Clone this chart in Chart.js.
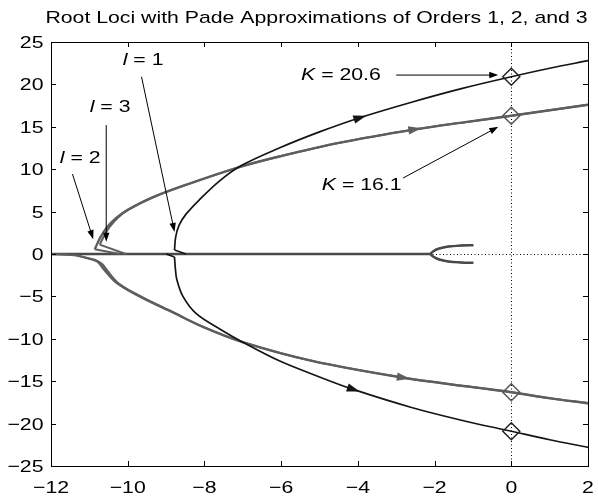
<!DOCTYPE html>
<html>
<head>
<meta charset="utf-8">
<script src="https://cdn.jsdelivr.net/npm/chart.js@4.4.1/dist/chart.umd.min.js"></script>
<style>
  html, body { margin: 0; padding: 0; background: #fff; }
  #wrap { width: 598px; height: 498px; }
</style>
</head>
<body>
<div id="wrap"><canvas id="c" width="598" height="498"></canvas></div>
<script>
// ---- values ----
const TITLE = 'Root Loci with Pade Approximations of Orders 1, 2, and 3';

// Pade order 1 (l = 1)
const l1UpX = [-8.78, -8.75, -8.66, -8.48, -8.13, -7.61, -7.05, -6.05, -5.0, -3.93, -2.6, -1.3, 0, 1, 2];
const l1UpY = [0.47, 2.0, 3.4, 4.7, 6.4, 8.6, 10.4, 12.5, 14.4, 16.1, 17.9, 19.5, 20.9, 21.9, 22.8];
const l1LoX = [-8.78, -8.76, -8.72, -8.56, -8.22, -7.58, -7.0, -6.05, -5.0, -4.1, -2.6, -1.3, 0, 1, 2];
const l1LoY = [-0.35, -1.6, -3.0, -5.0, -7.0, -8.9, -10.4, -12.6, -14.5, -16.0, -18.1, -19.6, -20.9, -21.9, -22.8];
const l1StubUpX = [-8.48, -8.78];
const l1StubUpY = [0, 0.47];
const l1StubLoX = [-9.0, -8.78];
const l1StubLoY = [0, -0.35];
const l1RealX = [-9.0, -2.11];
const l1RealY = [0, 0];

// Pade order 2 (l = 2)
const l2UpX = [-10.86, -10.72, -10.55, -10.3, -10.0, -9.34, -8.39, -7.05, -6.05, -4.5, -2.5, -1.2, 0, 1, 2];
const l2UpY = [0.55, 1.9, 3.1, 4.25, 5.2, 6.7, 8.3, 10.3, 11.5, 13.1, 14.7, 15.55, 16.3, 16.95, 17.6];
const l2LoX = [-10.9, -10.77, -10.64, -10.29, -9.69, -8.82, -8.04, -7.0, -5.2, -2.8, -1.0, 0, 1, 2];
const l2LoY = [-0.63, -0.95, -1.7, -3.4, -5.0, -6.9, -8.6, -10.4, -12.6, -14.6, -15.7, -16.3, -17.0, -17.6];
const l2StubUpX = [-10.2, -10.86];
const l2StubUpY = [0, 0.55];
const l2StubLoX = [-12, -11.4, -10.9];
const l2StubLoY = [0, -0.12, -0.63];

// Pade order 3 (l = 3)
const l3UpX = [-10.73, -10.62, -10.47, -10.25, -9.97, -9.32, -8.38, -7.05, -6.05, -4.5, -2.5, -1.2, 0, 1, 2];
const l3UpY = [1.1, 2.1, 3.2, 4.3, 5.25, 6.72, 8.3, 10.3, 11.5, 13.1, 14.7, 15.55, 16.3, 16.95, 17.6];
const l3LoX = [-10.78, -10.66, -10.55, -10.24, -9.65, -8.8, -8.03, -7.0, -5.2, -2.8, -1.0, 0, 1, 2];
const l3LoY = [-0.85, -1.2, -1.85, -3.45, -5.02, -6.9, -8.6, -10.4, -12.6, -14.6, -15.7, -16.3, -17.0, -17.6];
const l3StubUpX = [-10.05, -10.73];
const l3StubUpY = [0, 1.1];
const l3StubLoX = [-12, -11.3, -10.78];
const l3StubLoY = [0, -0.2, -0.85];

// branches leaving the plant poles at -1 ± j, shared by all orders
const plantUpX = [-0.99, -1.3, -1.64, -1.9, -2.04, -2.11];
const plantUpY = [1.04, 1.0, 0.88, 0.62, 0.3, 0];
const plantLoX = [-0.99, -1.3, -1.64, -1.9, -2.04, -2.11];
const plantLoY = [-1.04, -1.0, -0.88, -0.62, -0.3, 0];
const realAxisX = [-12, -2.11];
const realAxisY = [0, 0];

// imaginary-axis crossings
const crossX = [0, 0];
const cross206Y = [20.9, -20.9];
const cross161Y = [16.3, -16.3];

// ---- look ----
const BLACK = '#141414';
const GRAY = '#5e5e5e';
const SX = 1.25;
const FONT = '"Liberation Sans", Arial, Helvetica, sans-serif';
const FSIZE = 17;

const pts = (xs, ys) => xs.map((x, i) => ({ x, y: ys[i] }));

// lower "order" is painted later, i.e. on top
function curve(xs, ys, color, width, extra) {
  return Object.assign({
    data: pts(xs, ys), borderColor: color, backgroundColor: color,
    borderWidth: width, showLine: true, pointRadius: 0, pointHoverRadius: 0,
    tension: 0.35, fill: false, borderJoinStyle: 'round', order: 2
  }, extra || {});
}

const datasets = [
  curve(l1UpX, l1UpY, BLACK, 1.7, { arrowAt: 9, order: 1 }),
  curve(l1LoX, l1LoY, BLACK, 1.7, { arrowAt: 9, order: 1 }),
  curve(l1StubUpX, l1StubUpY, BLACK, 1.7, { tension: 0, order: 1 }),
  curve(l1StubLoX, l1StubLoY, BLACK, 1.7, { tension: 0, order: 1 }),
  curve(l1RealX, l1RealY, BLACK, 1.7, { tension: 0, order: 5 }),
  curve(plantUpX, plantUpY, BLACK, 1.6, { order: 5 }),
  curve(plantLoX, plantLoY, BLACK, 1.6, { order: 5 }),
  {
    data: pts(crossX, cross206Y), showLine: false, pointStyle: 'rectRot', order: 0,
    pointRadius: 8.5, pointHoverRadius: 8.5, borderColor: '#222', backgroundColor: 'rgba(0,0,0,0)', borderWidth: 1.5
  },
  {
    data: pts(crossX, cross161Y), showLine: false, pointStyle: 'rectRot', order: 0,
    pointRadius: 8.5, pointHoverRadius: 8.5, borderColor: '#555', backgroundColor: 'rgba(0,0,0,0)', borderWidth: 1.5
  },
  curve(l2UpX, l2UpY, GRAY, 2.4, { arrowAt: 10 }),
  curve(l2LoX, l2LoY, GRAY, 2.4, { arrowAt: 9 }),
  curve(l2StubUpX, l2StubUpY, GRAY, 2.0, { tension: 0 }),
  curve(l2StubLoX, l2StubLoY, GRAY, 2.0, { tension: 0.2 }),
  curve(l3UpX, l3UpY, GRAY, 2.0),
  curve(l3LoX, l3LoY, GRAY, 2.0),
  curve(l3StubUpX, l3StubUpY, GRAY, 2.0, { tension: 0 }),
  curve(l3StubLoX, l3StubLoY, GRAY, 2.0, { tension: 0.2 }),
  curve(realAxisX, realAxisY, '#4a4a4a', 2.6, { tension: 0, order: 3 }),
  curve(plantUpX, plantUpY, '#4a4a4a', 2.4, { order: 3 }),
  curve(plantLoX, plantLoY, '#4a4a4a', 2.4, { order: 3 })
];

// pointer annotations, in axis units
const notes = [
  { it: 'l', rest: ' = 1', tx: -10.13, ty: 22.3, from: [-9.64, 20.9], to: [-8.78, 2.6] },
  { it: 'l', rest: ' = 3', tx: -10.99, ty: 16.75, from: [-10.56, 15.2], to: [-10.56, 1.45] },
  { it: 'l', rest: ' = 2', tx: -11.77, ty: 10.73, from: [-11.44, 9.43], to: [-10.9, 1.75] },
  { it: 'K', rest: ' = 20.6', tx: -5.48, ty: 20.5, from: [-3.0, 21.1], to: [-0.34, 21.1] },
  { it: 'K', rest: ' = 16.1', tx: -4.94, ty: 7.55, from: [-2.82, 8.96], to: [-0.34, 15.0] }
];

function fmt(v) { return String(v).replace('-', '\u2212'); }

function sText(ctx, str, x, y, align) {
  ctx.save();
  ctx.font = FSIZE + 'px ' + FONT;
  ctx.fillStyle = '#000';
  ctx.textAlign = align;
  ctx.textBaseline = 'alphabetic';
  ctx.translate(x, y);
  ctx.scale(SX, 1);
  ctx.fillText(str, 0, 0);
  ctx.restore();
}

function mixedText(ctx, it, rest, x, y) {
  ctx.save();
  ctx.fillStyle = '#000';
  ctx.textAlign = 'left';
  ctx.textBaseline = 'alphabetic';
  ctx.translate(x, y);
  ctx.scale(SX, 1);
  ctx.font = 'italic ' + FSIZE + 'px ' + FONT;
  ctx.fillText(it, 0, 0);
  const w = ctx.measureText(it).width;
  ctx.font = FSIZE + 'px ' + FONT;
  ctx.fillText(rest, w, 0);
  ctx.restore();
}

function head(ctx, x, y, ang, len, half, color) {
  ctx.save();
  ctx.translate(x, y);
  ctx.rotate(ang);
  ctx.beginPath();
  ctx.moveTo(0, 0);
  ctx.lineTo(-len, -half);
  ctx.lineTo(-len, half);
  ctx.closePath();
  ctx.fillStyle = color;
  ctx.fill();
  ctx.restore();
}

const decor = {
  id: 'decor',
  beforeDatasetsDraw(chart) {
    const { ctx, chartArea: a, scales: { x, y } } = chart;
    ctx.save();
    ctx.strokeStyle = '#000';
    ctx.lineWidth = 1;
    ctx.setLineDash([1, 2.5]);
    const x0 = Math.round(x.getPixelForValue(0)) + 0.5;
    const y0 = Math.round(y.getPixelForValue(0)) + 0.5;
    ctx.beginPath();
    ctx.moveTo(x0, a.top); ctx.lineTo(x0, a.bottom);
    ctx.moveTo(a.left, y0); ctx.lineTo(a.right, y0);
    ctx.stroke();
    ctx.restore();
  },
  afterDatasetsDraw(chart) {
    const { ctx } = chart;
    chart.data.datasets.forEach((ds, i) => {
      if (ds.arrowAt === undefined) return;
      const el = chart.getDatasetMeta(i).data;
      const k = ds.arrowAt;
      const p = el[k], a0 = el[k - 1], a1 = el[k + 1];
      const ang = Math.atan2(a1.y - a0.y, a1.x - a0.x);
      head(ctx, p.x + Math.cos(ang) * 6, p.y + Math.sin(ang) * 6, ang, 13, 4.2, ds.borderColor);
    });
  },
  afterDraw(chart) {
    const { ctx, chartArea: a, scales: { x, y } } = chart;
    ctx.save();
    // axes box with inward ticks on every side
    ctx.strokeStyle = '#000';
    ctx.lineWidth = 1;
    ctx.strokeRect(a.left + 0.5, a.top + 0.5, a.right - a.left, a.bottom - a.top);
    ctx.beginPath();
    x.ticks.forEach(t => {
      const px = Math.round(x.getPixelForValue(t.value)) + 0.5;
      ctx.moveTo(px, a.bottom); ctx.lineTo(px, a.bottom - 5);
      ctx.moveTo(px, a.top); ctx.lineTo(px, a.top + 5);
    });
    y.ticks.forEach(t => {
      const py = Math.round(y.getPixelForValue(t.value)) + 0.5;
      ctx.moveTo(a.left, py); ctx.lineTo(a.left + 5, py);
      ctx.moveTo(a.right, py); ctx.lineTo(a.right - 5, py);
    });
    ctx.stroke();
    ctx.restore();

    // tick labels
    x.ticks.forEach(t => sText(ctx, fmt(t.value), x.getPixelForValue(t.value), a.bottom + 27, 'center'));
    y.ticks.forEach(t => sText(ctx, fmt(t.value), a.left - 7.5, y.getPixelForValue(t.value) + 6, 'right'));

    // title
    sText(ctx, TITLE, (a.left + a.right) / 2 - 3, a.top - 19, 'center');

    // pointer annotations
    notes.forEach(n => {
      mixedText(ctx, n.it, n.rest, x.getPixelForValue(n.tx), y.getPixelForValue(n.ty));
      const fx = x.getPixelForValue(n.from[0]), fy = y.getPixelForValue(n.from[1]);
      const tx = x.getPixelForValue(n.to[0]), ty = y.getPixelForValue(n.to[1]);
      const ang = Math.atan2(ty - fy, tx - fx);
      ctx.save();
      ctx.strokeStyle = '#000';
      ctx.lineWidth = 1;
      ctx.beginPath();
      ctx.moveTo(fx, fy);
      ctx.lineTo(tx - Math.cos(ang) * 6, ty - Math.sin(ang) * 6);
      ctx.stroke();
      ctx.restore();
      head(ctx, tx, ty, ang, 9, 3.2, '#000');
    });
  }
};

new Chart(document.getElementById('c'), {
  type: 'scatter',
  data: { datasets },
  options: {
    responsive: false,
    devicePixelRatio: 1,
    animation: false,
    events: [],
    layout: { padding: { top: 42, right: 8, left: 0, bottom: 0 } },
    plugins: { legend: { display: false }, tooltip: { enabled: false }, title: { display: false } },
    scales: {
      x: {
        type: 'linear', min: -12, max: 2,
        ticks: { stepSize: 2, display: false },
        grid: { display: false, drawTicks: false },
        border: { display: false },
        afterFit: s => { s.height = 32; }
      },
      y: {
        type: 'linear', min: -25, max: 25,
        ticks: { stepSize: 5, display: false },
        grid: { display: false, drawTicks: false },
        border: { display: false },
        afterFit: s => { s.width = 51; }
      }
    }
  },
  plugins: [decor]
});
</script>
</body>
</html>
